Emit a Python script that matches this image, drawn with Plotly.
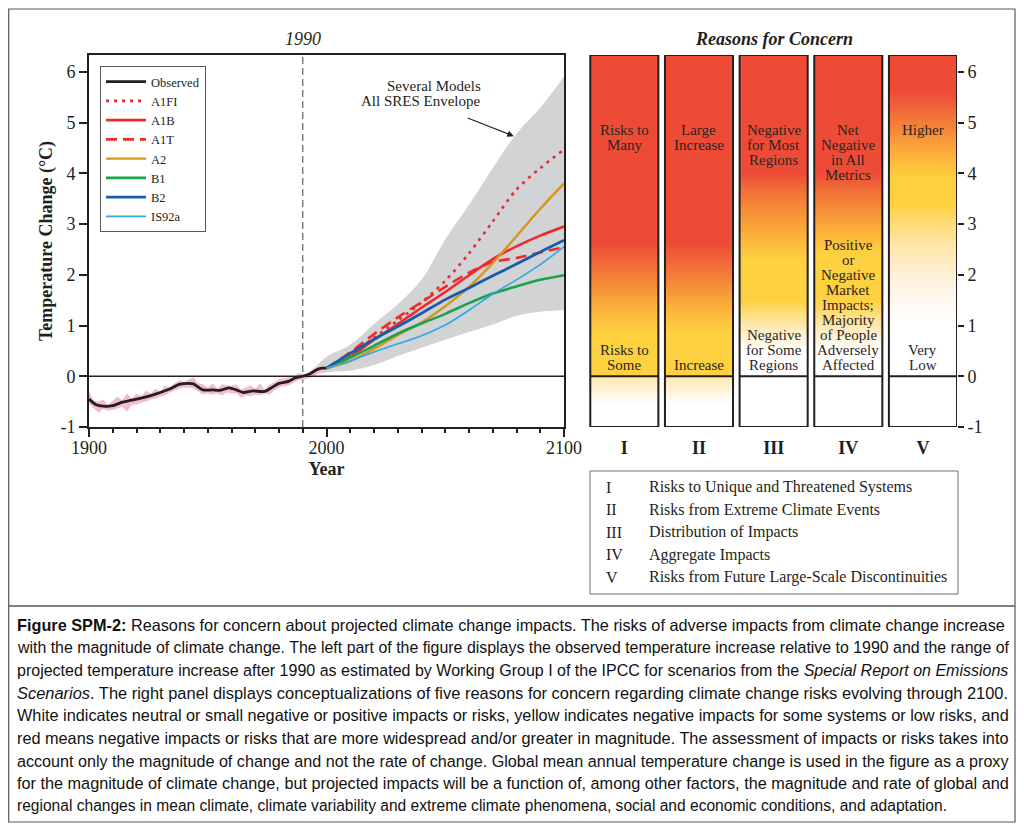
import re
import plotly.graph_objects as go

# The page places the figure 8px from the top-left corner of the window.
PAGE_OFF = 8
W, H = 1024 - PAGE_OFF, 829 - PAGE_OFF
SERIF = "Liberation Serif, Times New Roman, serif"
SANS = "Liberation Sans, Arial, sans-serif"
INK = "#231f20"

# ---------------- data ----------------
obs_years = [1900, 1903, 1906, 1910, 1914, 1917, 1921, 1926, 1930, 1934, 1938, 1942, 1944,
             1948, 1952, 1955, 1959, 1962, 1965, 1969, 1974, 1977, 1980, 1984, 1987, 1990,
             1993, 1996, 1998, 2000]
obs_temp = [-0.45, -0.56, -0.59, -0.58, -0.51, -0.48, -0.44, -0.38, -0.32, -0.25, -0.16, -0.14, -0.15,
            -0.27, -0.27, -0.28, -0.23, -0.27, -0.32, -0.29, -0.30, -0.22, -0.14, -0.10, -0.03, 0.0,
            0.05, 0.13, 0.16, 0.16]

band_years = [1900, 1902, 1904, 1906, 1908, 1910, 1912, 1914, 1916, 1918, 1920, 1922, 1924, 1926,
              1928, 1930, 1932, 1934, 1936, 1938, 1940, 1942, 1944, 1946, 1948, 1950, 1952, 1954,
              1956, 1958, 1960, 1962, 1964, 1966, 1968, 1970, 1972, 1974, 1976, 1978, 1980, 1982,
              1984, 1986, 1988, 1990, 1992, 1994, 1996, 1998, 2000]
band_upper = [-0.28, -0.50, -0.50, -0.46, -0.56, -0.48, -0.40, -0.48, -0.34, -0.44, -0.34, -0.40, -0.28,
              -0.34, -0.24, -0.30, -0.18, -0.22, -0.14, -0.08, -0.12, -0.06, -0.02, -0.14, -0.16, -0.22,
              -0.14, -0.24, -0.16, -0.18, -0.18, -0.16, -0.26, -0.22, -0.18, -0.24, -0.14, -0.26, -0.16,
              -0.12, -0.06, -0.04, -0.02, -0.02, 0.06, 0.05, 0.02, 0.14, 0.20, 0.10, 0.24]
band_lower = [-0.54, -0.64, -0.72, -0.64, -0.68, -0.66, -0.64, -0.60, -0.70, -0.56, -0.56, -0.52, -0.50,
              -0.46, -0.44, -0.40, -0.38, -0.32, -0.28, -0.24, -0.22, -0.22, -0.24, -0.30, -0.36, -0.34,
              -0.36, -0.34, -0.38, -0.32, -0.34, -0.34, -0.42, -0.38, -0.40, -0.36, -0.38, -0.34, -0.36,
              -0.28, -0.22, -0.20, -0.18, -0.14, -0.08, -0.08, -0.04, -0.02, 0.04, 0.08, 0.08]

env_years = [1993, 2000, 2010, 2020, 2030, 2040, 2050, 2060, 2070, 2080, 2090, 2100]
env_upper = [0.06, 0.38, 0.62, 1.03, 1.42, 1.90, 2.70, 3.38, 4.10, 4.78, 5.29, 5.90]
env_lower = [0.02, 0.08, 0.11, 0.22, 0.40, 0.56, 0.72, 0.87, 1.02, 1.19, 1.27, 1.30]

proj_years = [2000, 2010, 2020, 2030, 2040, 2050, 2060, 2070, 2080, 2090, 2100]
A1FI = [0.16, 0.42, 0.76, 1.10, 1.45, 1.88, 2.42, 3.05, 3.68, 4.10, 4.47]
A1B = [0.16, 0.38, 0.72, 1.03, 1.35, 1.66, 1.99, 2.31, 2.56, 2.77, 2.95]
A1T = [0.16, 0.47, 0.83, 1.16, 1.46, 1.76, 2.04, 2.25, 2.33, 2.44, 2.54]
A2 = [0.16, 0.30, 0.54, 0.81, 1.06, 1.38, 1.76, 2.23, 2.76, 3.30, 3.80]
B1 = [0.16, 0.37, 0.60, 0.84, 1.04, 1.23, 1.44, 1.63, 1.77, 1.90, 1.99]
B2 = [0.16, 0.45, 0.73, 0.98, 1.24, 1.51, 1.74, 1.98, 2.21, 2.45, 2.68]
IS92a = [0.16, 0.30, 0.48, 0.64, 0.80, 1.01, 1.30, 1.62, 1.90, 2.20, 2.55]

# Reasons for concern: risk level (0 white ... 3 red) at temperature breakpoints
concern_cats = ["I", "II", "III", "IV", "V"]
concern_names = ["Risks to Unique and Threatened Systems",
                 "Risks from Extreme Climate Events",
                 "Distribution of Impacts",
                 "Aggregate Impacts",
                 "Risks from Future Large-Scale Discontinuities"]
risk_temps_I = [-1, -0.55, -0.01, 0.0, 0.85, 1.4, 1.8, 2.2, 2.6, 6.33]
risk_level_I = [0, 0, 0.5, 1, 1, 1.5, 2, 2.5, 3, 3]
risk_temps_II = [-1, -0.55, -0.01, 0.0, 0.85, 1.4, 1.8, 2.2, 2.6, 6.33]
risk_level_II = [0, 0, 0.5, 1, 1, 1.5, 2, 2.5, 3, 3]
risk_temps_III = [-1, 0.5, 1.0, 1.5, 2.3, 2.8, 3.3, 3.7, 4.0, 6.33]
risk_level_III = [0, 0, 0.5, 1, 1, 1.5, 2, 2.5, 3, 3]
risk_temps_IV = [-1, 0.5, 1.0, 1.5, 2.4, 2.9, 3.3, 3.7, 4.0, 6.33]
risk_level_IV = [0, 0, 0.5, 1, 1, 1.5, 2, 2.5, 3, 3]
risk_temps_V = [-1, 1.1, 1.8, 2.5, 3.0, 3.4, 3.9, 4.4, 4.8, 5.2, 5.6, 6.33]
risk_level_V = [0, 0, 0.25, 0.5, 0.75, 1, 1, 1.5, 2, 2.5, 3, 3]

top_text = [["Risks to", "Many"], ["Large", "Increase"], ["Negative", "for Most", "Regions"],
            ["Net", "Negative", "in All", "Metrics"], ["Higher"]]
bottom_text = [["Risks to", "Some"], ["Increase"], ["Negative", "for Some", "Regions"],
               ["Positive", "or", "Negative", "Market", "Impacts;", "Majority", "of People",
                "Adversely", "Affected"], ["Very", "Low"]]

temp_ticks = [-1, 0, 1, 2, 3, 4, 5, 6]
year_ticks = [1900, 2000, 2100]

caption_lines = [
    "<b>Figure SPM-2:</b> Reasons for concern about projected climate change impacts. The risks of adverse impacts from climate change increase",
    "with the magnitude of climate change. The left part of the figure displays the observed temperature increase relative to 1990 and the range of",
    "projected temperature increase after 1990 as estimated by Working Group I of the IPCC for scenarios from the <i>Special Report on Emissions</i>",
    "<i>Scenarios</i>. The right panel displays conceptualizations of five reasons for concern regarding climate change risks evolving through 2100.",
    "White indicates neutral or small negative or positive impacts or risks, yellow indicates negative impacts for some systems or low risks, and",
    "red means negative impacts or risks that are more widespread and/or greater in magnitude. The assessment of impacts or risks takes into",
    "account only the magnitude of change and not the rate of change. Global mean annual temperature change is used in the figure as a proxy",
    "for the magnitude of climate change, but projected impacts will be a function of, among other factors, the magnitude and rate of global and",
    "regional changes in mean climate, climate variability and extreme climate phenomena, social and economic conditions, and adaptation.",
]

# ---------------- styles ----------------
Y_MIN, Y_MAX = -1, 6.33
palette = {0: "#FFFFFF", 0.25: "#FDF3E2", 0.5: "#FEE8B0", 0.75: "#FDDB78", 1: "#FDD13F",
           1.5: "#FBAE3B", 2: "#F58C37", 2.5: "#F16C38", 3: "#EE4B37"}
scen_styles = [
    ("A1FI", A1FI, dict(color="#EE2A2F", width=2.6, dash="3px,5px")),
    ("A1B", A1B, dict(color="#EE2A2F", width=2.6)),
    ("A1T", A1T, dict(color="#EE2A2F", width=2.6, dash="11px,6px")),
    ("A2", A2, dict(color="#D4981E", width=2.4)),
    ("B1", B1, dict(color="#1CA24B", width=2.6)),
    ("B2", B2, dict(color="#1B5CA6", width=2.8)),
    ("IS92a", IS92a, dict(color="#2FA9E1", width=1.6)),
]

# Arial / Liberation Sans advance widths (per 1000 em) for caption justification
_ARIAL = {" ": 278, ",": 278, ".": 278, ":": 278, ";": 278, "-": 333, "/": 278, "(": 333, ")": 333}
_ARIAL.update({d: 556 for d in "0123456789"})
_ARIAL.update(dict(zip("ABCDEFGHIJKLMNOPQRSTUVWXYZ",
                       [667, 667, 722, 722, 667, 611, 778, 722, 278, 500, 667, 556, 833, 722, 778, 667,
                        778, 722, 667, 611, 722, 667, 944, 667, 667, 611])))
_ARIAL.update(dict(zip("abcdefghijklmnopqrstuvwxyz",
                       [556, 556, 500, 556, 556, 278, 556, 556, 222, 222, 500, 222, 833, 556, 556, 556,
                        556, 333, 500, 278, 556, 500, 722, 500, 500, 500])))


def text_em(s):
    total = 0.0
    for part in re.split(r"(<b>.*?</b>)", s):
        bold = part.startswith("<b>")
        plain = re.sub(r"<[^>]+>", "", part)
        w = sum(_ARIAL.get(c, 556) for c in plain) / 1000.0
        total += w * (1.07 if bold else 1.0)
    return total


def px(x):
    return (x - PAGE_OFF) / W


def py(y):
    return 1 - (y - PAGE_OFF) / H


fig = go.Figure()

# envelope
fig.add_trace(go.Scatter(x=env_years, y=env_upper, mode="lines", line=dict(width=0, shape="spline"),
                         showlegend=False, hoverinfo="skip"))
fig.add_trace(go.Scatter(x=env_years, y=env_lower, mode="lines", line=dict(width=0, shape="spline"),
                         fill="tonexty", fillcolor="#D1D3D4", showlegend=False, hoverinfo="skip"))
# annual variability band
fig.add_trace(go.Scatter(x=band_years, y=band_upper, mode="lines", line=dict(width=0),
                         showlegend=False, hoverinfo="skip"))
fig.add_trace(go.Scatter(x=band_years, y=band_lower, mode="lines", line=dict(width=0),
                         fill="tonexty", fillcolor="#F5BCD0", showlegend=False, hoverinfo="skip"))
# observed
fig.add_trace(go.Scatter(x=obs_years, y=obs_temp, mode="lines", name="Observed",
                         line=dict(color=INK, width=2.8, shape="spline", smoothing=0.6)))
for name, vals, st in scen_styles:
    fig.add_trace(go.Scatter(x=proj_years, y=vals, mode="lines", name=name,
                             line=dict(shape="spline", smoothing=0.8, **st)))

# reasons for concern columns
HW = 0.456
risk_temps = [risk_temps_I, risk_temps_II, risk_temps_III, risk_temps_IV, risk_temps_V]
risk_levels = [risk_level_I, risk_level_II, risk_level_III, risk_level_IV, risk_level_V]
for i, cat in enumerate(concern_cats):
    cs = [[(t - Y_MIN) / (Y_MAX - Y_MIN), palette[l]] for t, l in zip(risk_temps[i], risk_levels[i])]
    cs[0][0] = 0.0
    cs[-1][0] = 1.0
    fig.add_trace(go.Scatter(
        x=[i - HW, i + HW, i + HW, i - HW, i - HW],
        y=[Y_MIN, Y_MIN, Y_MAX, Y_MAX, Y_MIN],
        mode="lines", fill="toself",
        fillgradient=dict(type="vertical", colorscale=cs, start=Y_MIN, stop=Y_MAX),
        line=dict(color=INK, width=2), xaxis="x2", yaxis="y2",
        showlegend=False, hoverinfo="skip", name=concern_names[i]))

shapes = []
annotations = []
# zero line and 1990 marker in left plot
shapes.append(dict(type="line", xref="x", yref="y", x0=1900, x1=2100, y0=0, y1=0,
                   line=dict(color=INK, width=1.6), layer="above"))
shapes.append(dict(type="line", xref="x", yref="y", x0=1990, x1=1990, y0=Y_MIN, y1=Y_MAX,
                   line=dict(color="#6d6e71", width=1.3, dash="7px,4px"), layer="below"))
for i in range(len(concern_cats)):
    shapes.append(dict(type="line", xref="x2", yref="y2", x0=i - HW, x1=i + HW, y0=0, y1=0,
                       line=dict(color=INK, width=2), layer="above"))

# outer frames
shapes.append(dict(type="rect", xref="paper", yref="paper", x0=px(8.7), x1=px(1015), y0=py(822), y1=py(9),
                   line=dict(color="#58595b", width=1.2)))
shapes.append(dict(type="line", xref="paper", yref="paper", x0=px(8.7), x1=px(1015), y0=py(606), y1=py(606),
                   line=dict(color="#58595b", width=1.6)))
# key box
shapes.append(dict(type="rect", xref="paper", yref="paper", x0=px(590), x1=px(958), y0=py(594), y1=py(471),
                   line=dict(color="#6d6e71", width=1)))


def add_lines(lines, x, y, xref, yref, step, font, anchor="top", xanchor="center"):
    n = len(lines)
    for k, line in enumerate(lines):
        shift = -k * step if anchor == "top" else (n - 1 - k) * step
        annotations.append(dict(text=line, x=x, y=y, xref=xref, yref=yref, yshift=shift,
                                showarrow=False, xanchor=xanchor, yanchor="middle", font=font))


col_font = dict(family=SERIF, size=15, color="#2b2523")
for i in range(len(concern_cats)):
    add_lines(top_text[i], i, 4.85, "x2", "y2", 15, col_font, "top")
    add_lines(bottom_text[i], i, 0.22, "x2", "y2", 15, col_font, "bottom")

annotations.append(dict(text="<i>1990</i>", x=1990, y=py(39), xref="x", yref="paper", showarrow=False,
                        xanchor="center", yanchor="middle", font=dict(family=SERIF, size=18, color=INK)))
annotations.append(dict(text="<b><i>Reasons for Concern</i></b>", x=2, y=py(39), xref="x2", yref="paper",
                        showarrow=False, xanchor="center", yanchor="middle",
                        font=dict(family=SERIF, size=18, color=INK)))
add_lines(["Several Models", "All SRES Envelope"], 2065.7, 5.72, "x", "y", 15.5,
          dict(family=SERIF, size=15, color=INK), "top", xanchor="right")
annotations.append(dict(text="", x=2078.9, y=4.73, ax=2058.8, ay=5.10, xref="x", yref="y",
                        axref="x", ayref="y", showarrow=True, arrowhead=2, arrowsize=1.1,
                        arrowwidth=1.2, arrowcolor=INK))

key_font = dict(family=SERIF, size=16, color=INK)
for k, (cat, nm) in enumerate(zip(concern_cats, concern_names)):
    yy = py(487 + k * 22.5)
    annotations.append(dict(text=cat, x=px(604), y=yy, xref="paper", yref="paper", showarrow=False,
                            xanchor="left", yanchor="middle", font=key_font))
    annotations.append(dict(text=nm, x=px(647), y=yy, xref="paper", yref="paper", showarrow=False,
                            xanchor="left", yanchor="middle", font=key_font))

# caption: justified lines sized to span the caption width; last line is left-aligned
CAP_LEFT, CAP_RIGHT, LAST_RIGHT = 15, 1007, 945
sizes = [min(17.0, (CAP_RIGHT - CAP_LEFT) / text_em(l)) for l in caption_lines[:-1]]
sizes.append((LAST_RIGHT - CAP_LEFT) / text_em(caption_lines[-1]))
for k, line in enumerate(caption_lines):
    annotations.append(dict(text=line, x=px(CAP_LEFT), y=py(625 + k * 22.6), xref="paper", yref="paper",
                            showarrow=False, xanchor="left", yanchor="middle",
                            font=dict(family=SANS, size=round(sizes[k], 2), color="#111111")))

axis_font = dict(family=SERIF, size=18, color=INK)
tick_txt = [str(t) for t in temp_ticks]
fig.update_layout(
    template="none",
    width=W, height=H, margin=dict(l=0, r=0, t=0, b=0, autoexpand=False),
    paper_bgcolor="white", plot_bgcolor="white",
    font=dict(family=SERIF, color=INK),
    showlegend=True,
    legend=dict(x=px(100), y=py(66), xanchor="left", yanchor="top", bgcolor="white",
                bordercolor="#58595b", borderwidth=1, font=dict(family=SERIF, size=12.5, color=INK),
                traceorder="normal", tracegroupgap=0, itemwidth=40),
    xaxis=dict(domain=[px(89), px(564)], range=[1900, 2100], tickvals=year_ticks, automargin=False,
               ticks="outside", ticklen=8, tickwidth=2, tickcolor=INK, showline=True, linewidth=2,
               linecolor=INK, mirror=True, showgrid=False, zeroline=False, tickfont=axis_font,
               ticklabelstandoff=-5,
               minor=dict(dtick=10, ticks="outside", ticklen=4, tickwidth=1.5, tickcolor=INK, showgrid=False),
               title=dict(text="<b>Year</b>", font=axis_font, standoff=6), anchor="y"),
    yaxis=dict(domain=[py(427), py(55)], range=[Y_MIN, Y_MAX], tickvals=temp_ticks, ticktext=tick_txt,
               automargin=False,
               ticks="outside", ticklen=8, tickwidth=2, tickcolor=INK, showline=True, linewidth=2,
               linecolor=INK, mirror=True, showgrid=False, zeroline=False, tickfont=axis_font,
               title=dict(text="<b>Temperature Change (°C)</b>", font=axis_font, standoff=3), anchor="x"),
    xaxis2=dict(domain=[px(587), px(957)], range=[-0.5, 4 + HW], tickvals=list(range(len(concern_cats))),
                ticktext=["<b>%s</b>" % c for c in concern_cats], ticks="outside", ticklen=4,
                automargin=False,
                tickcolor="rgba(0,0,0,0)", showline=False, showgrid=False, zeroline=False,
                tickfont=axis_font, anchor="y2"),
    yaxis2=dict(domain=[py(427), py(55)], range=[Y_MIN, Y_MAX], tickvals=temp_ticks, ticktext=tick_txt,
                automargin=False,
                side="right", ticks="outside", ticklen=6, tickwidth=2, tickcolor=INK, showline=False,
                showgrid=False, zeroline=False, tickfont=axis_font, anchor="x2"),
    shapes=shapes, annotations=annotations,
)

fig.write_html("out.html")
